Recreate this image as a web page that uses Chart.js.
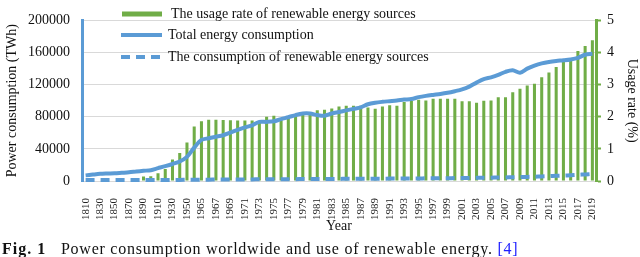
<!DOCTYPE html>
<html>
<head>
<meta charset="utf-8">
<script src="https://cdn.jsdelivr.net/npm/chart.js@4.4.1/dist/chart.umd.min.js"></script>
<style>
  body { margin: 0; background: #fff; }
  #wrap { position: relative; width: 640px; height: 257px; }
  #caption { position: absolute; left: 2px; top: 241px; font: 16px "Liberation Serif", serif; line-height: 16px; white-space: nowrap; letter-spacing: 0.75px; color: #111; }
  #caption b { margin-right: 10px; letter-spacing: 1px; }
  #caption .ref { color: #2020ff; }
</style>
</head>
<body>
<div id="wrap">
  <canvas id="chart" width="640" height="257"></canvas>
  <div id="caption"><b>Fig. 1</b> Power consumption worldwide and use of renewable energy. <span class="ref">[4]</span></div>
</div>
<script>
const years = ["1810", "1820", "1830", "1840", "1850", "1860", "1870", "1880", "1890", "1900",
    "1910", "1920", "1930", "1940", "1950", "1960",
    "1965", "1966", "1967", "1968", "1969", "1970", "1971", "1972", "1973", "1974",
    "1975", "1976", "1977", "1978", "1979", "1980", "1981", "1982", "1983", "1984",
    "1985", "1986", "1987", "1988", "1989", "1990", "1991", "1992", "1993", "1994",
    "1995", "1996", "1997", "1998", "1999", "2000", "2001", "2002", "2003", "2004",
    "2005", "2006", "2007", "2008", "2009", "2010", "2011", "2012", "2013", "2014",
    "2015", "2016", "2017", "2018", "2019"];

// usage rate of renewable energy sources (%), right axis
const usageRate = [0, 0, 0, 0, 0, 0, 0, 0, 0.14, 0.15,
    0.24, 0.37, 0.67, 0.87, 1.2, 1.7,
    1.86, 1.91, 1.91, 1.9, 1.89, 1.88, 1.88, 1.88, 1.87, 2.0,
    2.03, 1.89, 1.96, 2.05, 2.1, 2.13, 2.2, 2.22, 2.26, 2.32,
    2.34, 2.34, 2.34, 2.29, 2.25, 2.32, 2.36, 2.34, 2.46, 2.49,
    2.53, 2.51, 2.56, 2.56, 2.56, 2.56, 2.48, 2.48, 2.44, 2.5,
    2.51, 2.61, 2.61, 2.76, 2.87, 2.97, 3.03, 3.23, 3.38, 3.55,
    3.72, 3.83, 4.05, 4.2, 4.38];

// total energy consumption (TWh), left axis
const totalConsumption = [7000, 8000, 8900, 9300, 9600, 10200, 10800, 11800, 12700, 13500,
    16000, 18500, 21200, 24300, 30000, 41600,
    51200, 53200, 55100, 57000, 60300, 63600, 66700, 69400, 73600, 73600,
    74300, 77100, 79400, 82100, 84000, 84000, 82100, 81300, 84000, 85900,
    87900, 89800, 91700, 95600, 97500, 98600, 99400, 100200, 101400, 102100,
    104400, 106000, 107200, 108300, 109800, 111800, 114100, 117600, 122500, 126800,
    129100, 132100, 136000, 137900, 134900, 139900, 143700, 146500, 148300, 149500,
    150300, 151400, 153400, 157200, 158400];

// consumption of renewable energy sources (TWh), left axis
const renewableConsumption = [1200, 1200, 1200, 1200, 1200, 1200, 1200, 1200, 1200, 1200,
    1300, 1300, 1400, 1400, 1500, 1600,
    1700, 1700, 1800, 1800, 1900, 1900, 2000, 2000, 2100, 2100,
    2200, 2200, 2300, 2300, 2400, 2400, 2500, 2500, 2600, 2600,
    2700, 2700, 2800, 2800, 2900, 2900, 3000, 3000, 3100, 3100,
    3200, 3300, 3300, 3400, 3500, 3600, 3700, 3800, 3900, 4000,
    4200, 4300, 4500, 4700, 4900, 5100, 5400, 5700, 6000, 6400,
    6800, 7200, 7700, 8200, 8800];

const GREEN = "#70AD47";
const BLUE = "#5B9BD5";
const FONT = "'Liberation Serif', 'Times New Roman', serif";

// legend drawn inside the plot, like the original
const innerLegend = {
    id: "innerLegend",
    afterDraw(chart) {
        const ctx = chart.ctx;
        const sets = chart.data.datasets;
        const rows = [14, 35, 57];
        ctx.save();
        ctx.font = "14px " + FONT;
        ctx.textBaseline = "middle";
        sets.forEach((ds, i) => {
            const y = rows[i];
            if (ds.type === "bar") {
                ctx.fillStyle = GREEN;
                ctx.fillRect(122, y - 2.5, 40, 5);
            } else {
                ctx.strokeStyle = BLUE;
                ctx.lineWidth = 4;
                ctx.setLineDash(ds.borderDash || []);
                ctx.beginPath();
                ctx.moveTo(121, y);
                ctx.lineTo(162, y);
                ctx.stroke();
                ctx.setLineDash([]);
            }
            ctx.fillStyle = "#111";
            ctx.fillText(ds.label, i === 0 ? 171 : 168, y);
        });
        ctx.restore();
    }
};

new Chart(document.getElementById("chart"), {
    data: {
        labels: years,
        datasets: [{
            type: "bar",
            label: "The usage rate of renewable energy sources",
            data: usageRate,
            yAxisID: "y1",
            backgroundColor: GREEN,
            barPercentage: 0.42,
            categoryPercentage: 1,
            order: 3
        },
        {
            type: "line",
            label: "Total energy consumption",
            data: totalConsumption,
            yAxisID: "y",
            borderColor: BLUE,
            borderWidth: 4,
            pointRadius: 0,
            tension: 0.3,
            clip: 4,
            order: 1
        },
        {
            type: "line",
            label: "The consumption of renewable energy sources",
            data: renewableConsumption,
            yAxisID: "y",
            borderColor: BLUE,
            borderWidth: 4,
            borderDash: [9, 6],
            pointRadius: 0,
            tension: 0.3,
            clip: 4,
            order: 2
        }]
    },
    options: {
        responsive: false,
        animation: false,
        layout: { padding: { top: 8, bottom: 22, left: 0, right: 0 } },
        plugins: {
            legend: { display: false },
            tooltip: { enabled: false }
        },
        scales: {
            x: {
                offset: true,
                grid: { display: false },
                border: { display: false },
                ticks: {
                    autoSkip: false,
                    minRotation: 90,
                    maxRotation: 90,
                    padding: 9,
                    color: "#222",
                    font: { family: FONT, size: 11 },
                    callback: function(v, i) { return i % 2 === 0 ? this.getLabelForValue(v) : ""; }
                },
                title: {
                    display: true,
                    text: "Year",
                    color: "#111",
                    font: { family: FONT, size: 14 },
                    padding: { top: 0, bottom: 0 }
                },
                afterFit: s => { s.height = 54; }
            },
            y: {
                position: "left",
                min: 0,
                max: 200000,
                grid: { color: "#D9D9D9", drawTicks: false },
                border: { color: BLUE, width: 3 },
                ticks: {
                    stepSize: 40000,
                    padding: 12,
                    color: "#111",
                    font: { family: FONT, size: 14 },
                    callback: v => String(v)
                },
                title: {
                    display: true,
                    text: "Power consumption (TWh)",
                    color: "#111",
                    font: { family: FONT, size: 14 },
                    padding: { top: 4, bottom: 0 }
                },
                afterFit: s => { s.width = 82; }
            },
            y1: {
                position: "right",
                min: 0,
                max: 5,
                grid: { drawOnChartArea: false, tickLength: 5, tickColor: GREEN, tickWidth: 2 },
                border: { color: GREEN, width: 3 },
                ticks: {
                    stepSize: 1,
                    padding: 6,
                    color: "#111",
                    font: { family: FONT, size: 14 }
                },
                title: {
                    display: true,
                    text: "Usage rate (%)",
                    color: "#111",
                    font: { family: FONT, size: 14 },
                    padding: { top: 0, bottom: 0 }
                },
                afterFit: s => { s.width = 44; }
            }
        }
    },
    plugins: [innerLegend]
});
</script>
</body>
</html>
